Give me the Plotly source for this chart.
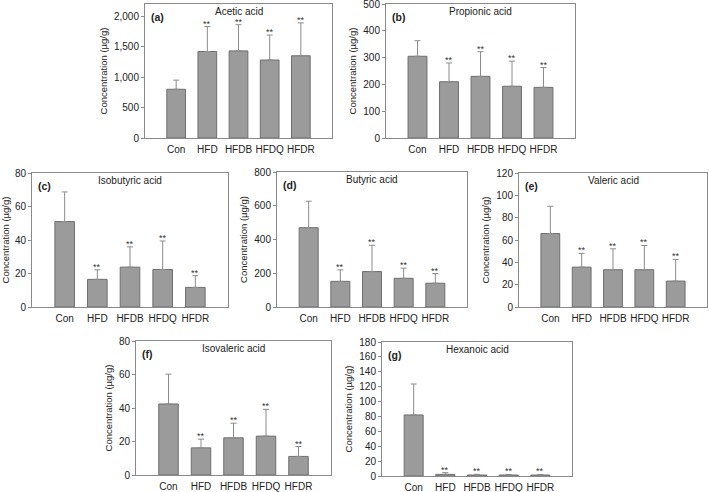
import plotly.graph_objects as go

groups = ["Con", "HFD", "HFDB", "HFDQ", "HFDR"]

# mean concentration (ug/g) and SD
acetic = [800, 1420, 1430, 1280, 1350]
acetic_sd = [150, 410, 430, 410, 540]
propionic = [305, 210, 230, 193, 189]
propionic_sd = [58, 70, 92, 94, 74]
isobutyric = [51, 16.5, 23.8, 22.4, 11.7]
isobutyric_sd = [17.7, 5.7, 12.1, 17, 7]
butyric = [470, 152, 210, 170, 141]
butyric_sd = [157, 68, 156, 60, 57]
valeric = [65.8, 35.7, 33.4, 33.4, 23.2]
valeric_sd = [24.4, 12.3, 18.7, 21.7, 19.4]
isovaleric = [42.4, 16.2, 22.2, 23.2, 11.1]
isovaleric_sd = [17.8, 5.2, 8.7, 16, 5.9]
hexanoic = [82, 2.2, 1.3, 1.3, 1.3]
hexanoic_sd = [41.6, 2.3, 1.0, 0.8, 0.8]

sig = ["", "**", "**", "**", "**"]

panels = [
    ("(a)", "Acetic acid", acetic, acetic_sd, 2200, 500),
    ("(b)", "Propionic acid", propionic, propionic_sd, 500, 100),
    ("(c)", "Isobutyric acid", isobutyric, isobutyric_sd, 80, 20),
    ("(d)", "Butyric acid", butyric, butyric_sd, 800, 200),
    ("(e)", "Valeric acid", valeric, valeric_sd, 120, 20),
    ("(f)", "Isovaleric acid", isovaleric, isovaleric_sd, 80, 20),
    ("(g)", "Hexanoic acid", hexanoic, hexanoic_sd, 180, 20),
]

# pixel boxes of each plot area (left, top, right, bottom)
W, H = 709, 492
boxes = [
    (145, 4, 332, 138),
    (386, 4, 575, 138),
    (32, 173, 228, 307),
    (277, 172, 467, 307),
    (519, 173, 707, 307),
    (136, 341, 331, 475),
    (382, 342, 572, 476),
]

FONT = "Arial, Liberation Sans, sans-serif"
AX = "#8a8a8a"

fig = go.Figure()
layout = dict(
    width=W, height=H,
    margin=dict(l=0, r=0, t=0, b=0),
    paper_bgcolor="white", plot_bgcolor="white",
    showlegend=False, hovermode=False,
    font=dict(family=FONT, size=10, color="#222"),
    annotations=[],
)

for i, (tag, name, vals, sd, ymax, dt) in enumerate(panels):
    n = "" if i == 0 else str(i + 1)
    xa, ya = "x" + n, "y" + n
    fig.add_trace(go.Bar(
        x=groups, y=vals, xaxis=xa, yaxis=ya, width=0.6,
        marker=dict(color="#9b9b9b", line=dict(color="#6f6f6f", width=1)),
        error_y=dict(type="data", array=sd, symmetric=False, arrayminus=[0]*5,
                     color="#8c8c8c", thickness=1, width=3),
    ))
    # significance marks just above the error-bar caps
    for g, v, s, mark in zip(groups, vals, sd, sig):
        if mark:
            layout["annotations"].append(dict(
                text=mark, x=g, y=v + s, xref=xa, yref=ya,
                xanchor="center", yanchor="middle", yshift=3, showarrow=False,
                font=dict(size=9, color="#333"),
            ))
    l, t, r, b = boxes[i]
    layout["xaxis" + n] = dict(
        domain=[l / W, r / W], anchor=ya, range=[-1, 5], automargin=False,
        showline=True, linecolor=AX, linewidth=1, mirror=True,
        showgrid=False, zeroline=False, ticks="", ticklabelstandoff=2,
        tickfont=dict(size=10, color="#222"),
    )
    layout["yaxis" + n] = dict(
        domain=[1 - b / H, 1 - t / H], anchor=xa, range=[0, ymax], dtick=dt,
        tickformat=",d", automargin=False, ticklabeloverflow="allow",
        showline=True, linecolor=AX, linewidth=1, mirror=True,
        showgrid=False, zeroline=False, ticks="outside", ticklen=3, tickcolor=AX,
        tickfont=dict(size=10, color="#222"),
        title=dict(text="Concentration (µg/g)", font=dict(size=9.5, color="#222"),
                   standoff=4),
    )
    layout["annotations"].append(dict(
        text=name, xref=xa + " domain", yref=ya + " domain", x=0.5, y=1,
        xanchor="center", yanchor="top", yshift=0, showarrow=False,
        font=dict(size=10, color="#222"),
    ))
    layout["annotations"].append(dict(
        text="<b>" + tag + "</b>", xref=xa + " domain", yref=ya + " domain",
        x=0.02, y=1, xanchor="left", yanchor="top", yshift=-5, showarrow=False,
        font=dict(size=10.5, color="#222"),
    ))

fig.update_layout(**layout)
# drop the default 8px page margin so the figure sits at the window corner
fig.write_html("out.html", config={"displayModeBar": False},
               post_script="document.body.style.margin='0';")
